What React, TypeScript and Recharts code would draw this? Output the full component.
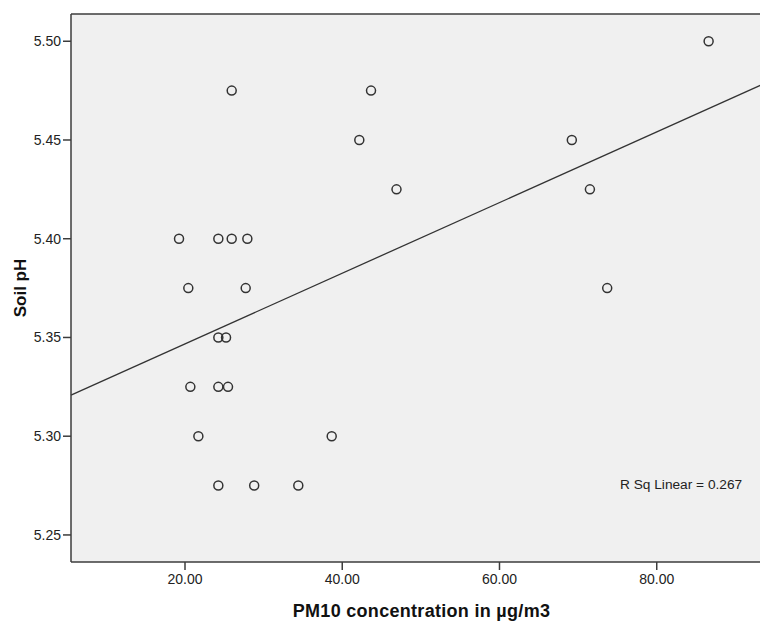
import { ScatterChart, Scatter, XAxis, YAxis, CartesianGrid, ReferenceLine } from 'recharts';

// PM10 (µg/m3) vs soil pH, one entry per sampling site
const pm10 = [19.24, 24.24, 25.94, 27.93, 20.42, 27.72, 24.24, 25.22, 20.68, 24.24, 25.47, 21.7, 38.66, 24.24, 28.8, 34.41, 25.94, 42.17, 43.66, 46.9, 69.2, 71.5, 73.7, 86.6];
const soilPh = [5.4, 5.4, 5.4, 5.4, 5.375, 5.375, 5.35, 5.35, 5.325, 5.325, 5.325, 5.3, 5.3, 5.275, 5.275, 5.275, 5.475, 5.45, 5.475, 5.425, 5.45, 5.425, 5.375, 5.5];

const xTicks = [20, 40, 60, 80];
const yTicks = [5.25, 5.3, 5.35, 5.4, 5.45, 5.5];
// the original export is cut off on the right, so the plot runs past the page edge
const xDomain = [5.5, 99.24];
const yDomain = [5.2363, 5.5138];
const rSqLabel = 'R Sq Linear = 0.267';

const points = pm10.map((x, i) => ({ x, y: soilPh[i] }));

// least squares fit for the linear trend line
const fit = (() => {
  const n = points.length;
  const mx = points.reduce((s, p) => s + p.x, 0) / n;
  const my = points.reduce((s, p) => s + p.y, 0) / n;
  let sxy = 0;
  let sxx = 0;
  points.forEach(p => {
    sxy += (p.x - mx) * (p.y - my);
    sxx += (p.x - mx) * (p.x - mx);
  });
  const b = sxy / sxx;
  const a = my - b * mx;
  return [
    { x: xDomain[0], y: a + b * xDomain[0] },
    { x: xDomain[1], y: a + b * xDomain[1] },
  ];
})();

const FONT = '"Liberation Sans", Arial, sans-serif';
const AXIS = '#3c3c3c';

const OpenCircle = (props: any) => {
  const { cx, cy } = props;
  return <circle cx={cx} cy={cy} r={4.5} fill="none" stroke="#333" strokeWidth={1.5} />;
};

export default function App() {
  return (
    <div
      style={{
        position: 'fixed',
        left: 0,
        top: 0,
        width: 760,
        height: 621,
        overflow: 'hidden',
        background: '#fff',
        fontFamily: FONT,
      }}
    >
      <ScatterChart width={808} height={621} margin={{ top: 14, right: 0, bottom: 0, left: 0 }}>
        <CartesianGrid fill="#f0f0f0" horizontal={false} vertical={false} />
        <XAxis
          type="number"
          dataKey="x"
          domain={xDomain}
          allowDataOverflow
          ticks={xTicks}
          tickFormatter={(v: number) => v.toFixed(2)}
          height={59}
          tickSize={8}
          tickMargin={4}
          stroke={AXIS}
          strokeWidth={1.5}
          tick={{ fontSize: 14, fill: '#222', fontFamily: FONT }}
          label={{
            value: 'PM10 concentration in µg/m3',
            position: 'insideBottom',
            offset: 4.5,
            dx: -18,
            style: { fontSize: 18, fontWeight: 'bold', letterSpacing: 0.3, fill: '#111', fontFamily: FONT },
          }}
        />
        <YAxis
          type="number"
          dataKey="y"
          domain={yDomain}
          allowDataOverflow
          ticks={yTicks}
          tickFormatter={(v: number) => v.toFixed(2)}
          width={71}
          tickSize={8}
          tickMargin={2}
          stroke={AXIS}
          strokeWidth={1.5}
          tick={{ fontSize: 14, fill: '#222', fontFamily: FONT }}
          label={{
            value: 'Soil pH',
            angle: -90,
            position: 'insideLeft',
            offset: 20,
            style: { fontSize: 17, fontWeight: 'bold', fill: '#111', fontFamily: FONT, textAnchor: 'middle' },
          }}
        />
        <ReferenceLine y={yDomain[1]} stroke={AXIS} strokeWidth={1.5} ifOverflow="visible" />
        <ReferenceLine segment={fit} stroke="#333" strokeWidth={1.3} ifOverflow="visible" />
        <Scatter data={points} shape={OpenCircle} isAnimationActive={false} />
      </ScatterChart>
      <div
        style={{
          position: 'absolute',
          left: 620,
          top: 477,
          fontSize: 13.7,
          lineHeight: '16px',
          color: '#222',
          whiteSpace: 'nowrap',
        }}
      >
        {rSqLabel}
      </div>
    </div>
  );
}
